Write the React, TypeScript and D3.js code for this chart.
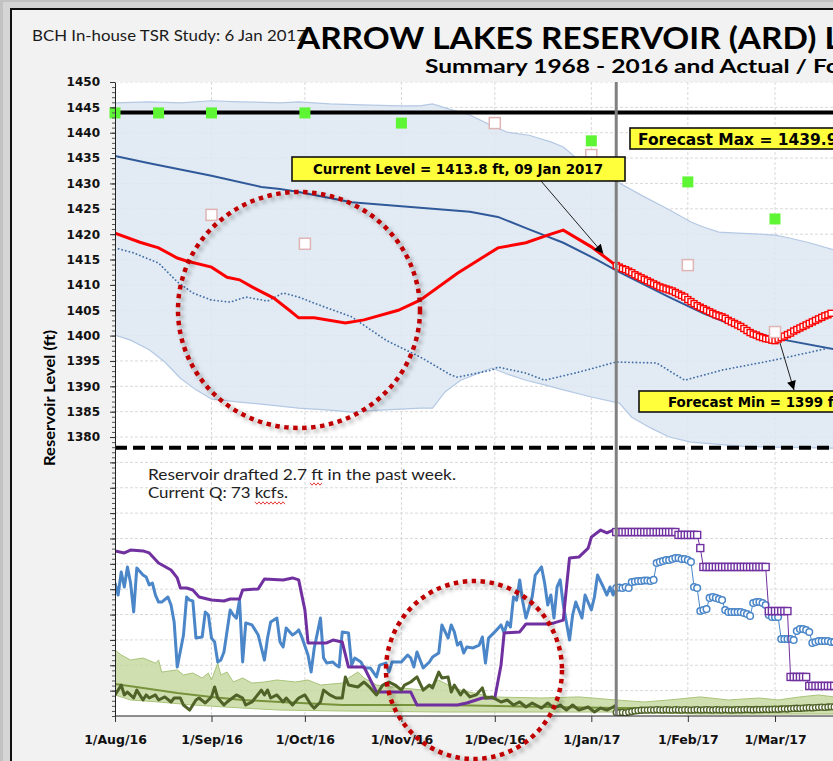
import React, { useEffect, useRef } from 'react';
import * as d3 from 'd3';

type Pt = [number, number];

const W = 833;
const H = 761;
// x values are days since 1 Aug 2016
const START = new Date(2016, 7, 1);
const CURRENT_DAY = 161; // 09 Jan 2017

const FULL_POOL = 1444.0;
const MIN_POOL = 1377.9;
const CURRENT_LEVEL = 1413.8;

const yTickLabels = [1380, 1385, 1390, 1395, 1400, 1405, 1410, 1415, 1420, 1425, 1430, 1435, 1440, 1445, 1450];

// historical range 1968 - 2016 (ft)
const levelBandMax: Pt[] = [[0,1445.9],[11,1446.1],[21,1445.9],[31,1446.3],[40,1446.1],[53,1445.9],[59,1446.1],[69,1445.7],[79,1445.5],[92,1445.3],[98,1445.3],[102,1445.7],[106,1444.9],[114,1443.5],[120,1441.7],[126,1440.1],[133,1439.5],[140,1438.2],[144,1437.2],[149,1434.6],[156,1431.7],[162,1430.1],[169,1427.7],[178,1424.8],[185,1422.4],[189,1421.4],[194,1420.4],[200,1420.2],[207,1420.0],[212,1419.8],[217,1419.2],[223,1418.3],[231,1416.9]];
const levelBandMin: Pt[] = [[0,1400.1],[5,1399.1],[11,1397.2],[16,1394.8],[21,1391.6],[26,1389.3],[31,1387.5],[40,1386.9],[50,1386.3],[59,1385.7],[69,1385.3],[76,1384.9],[85,1385.3],[92,1385.5],[98,1385.7],[102,1385.7],[106,1388.9],[111,1391.2],[116,1392.4],[121,1393.6],[127,1392.2],[132,1391.2],[138,1390.3],[144,1389.3],[153,1387.9],[162,1386.7],[166,1383.9],[172,1381.8],[178,1380.0],[185,1379.0],[189,1378.8],[201,1378.2],[212,1378.0],[231,1377.8]];
const levelMedian: Pt[] = [[0,1435.4],[11,1434.0],[31,1431.5],[47,1429.3],[53,1428.9],[59,1428.3],[76,1426.3],[98,1425.2],[114,1424.4],[123,1423.4],[132,1421.2],[144,1418.3],[155,1414.9],[162,1412.5],[178,1407.6],[189,1404.4],[200,1401.7],[212,1399.5],[231,1397.3]];
const levelPrevYear: Pt[] = [[0,1417.3],[6,1416.3],[14,1414.3],[20,1410.6],[25,1408.4],[31,1407.0],[37,1406.6],[42,1407.6],[49,1406.8],[54,1408.4],[59,1407.6],[64,1406.4],[76,1403.7],[87,1399.1],[98,1395.8],[108,1392.2],[110,1391.8],[121,1393.2],[123,1393.8],[132,1392.6],[138,1391.2],[149,1392.8],[161,1394.8],[174,1394.6],[183,1391.2],[195,1393.2],[212,1395.2],[229,1397.5]];
const levelActual: Pt[] = [[0,1420.2],[8,1418.4],[14,1417.3],[20,1415.3],[23,1414.7],[31,1413.5],[36,1411.5],[40,1411.0],[44,1409.6],[51,1407.4],[56,1405.0],[59,1403.5],[64,1403.5],[74,1402.5],[80,1403.1],[91,1405.0],[98,1407.0],[110,1412.3],[123,1417.3],[132,1418.3],[139,1419.8],[144,1420.8],[153,1417.5],[161,1413.8]];
// daily forecast from 09 Jan 2017
const levelForecast = [1413.8,1413.5,1413.2,1413.0,1412.7,1412.4,1412.0,1411.7,1411.4,1411.1,1410.8,1410.5,1410.2,1409.9,1409.6,1409.4,1409.2,1409.0,1408.8,1408.5,1408.2,1407.9,1407.6,1407.1,1406.7,1406.3,1405.9,1405.6,1405.3,1405.0,1404.7,1404.4,1404.1,1403.9,1403.7,1403.4,1403.0,1402.7,1402.4,1402.1,1401.8,1401.4,1401.0,1400.6,1400.3,1400.1,1399.8,1399.6,1399.4,1399.3,1399.1,1399.0,1399.3,1399.6,1399.9,1400.2,1400.5,1400.9,1401.2,1401.5,1401.8,1402.1,1402.4,1402.7,1403.0,1403.3,1403.6,1403.9,1404.1,1404.4];
const targetHigh: Pt[] = [[0,1443.9],[14,1443.9],[31,1443.9],[61,1443.9],[92,1441.9],[153,1438.4],[184,1430.3],[212,1423.0]];
const targetLow: Pt[] = [[31,1423.8],[61,1418.1],[122,1441.9],[153,1435.6],[184,1413.9],[212,1400.7]];

// flows (kcfs)
const inflowActual: Pt[] = [[0,73.9],[1,67.2],[2,80.0],[3,71.7],[4,82.8],[5,73.9],[6,57.8],[7,82.2],[9,78.3],[10,77.2],[11,72.8],[12,73.9],[13,67.2],[14,63.3],[15,63.3],[17,66.1],[18,61.7],[19,52.2],[20,27.2],[22,45.0],[23,66.1],[24,64.4],[25,63.9],[26,43.3],[28,43.9],[29,57.8],[30,56.1],[31,43.3],[32,41.1],[33,30.0],[34,31.1],[35,35.6],[37,58.9],[38,56.1],[39,54.4],[40,64.4],[41,30.0],[42,51.7],[44,50.6],[46,45.0],[48,31.1],[49,43.3],[50,52.2],[52,54.4],[53,41.1],[54,38.3],[55,48.9],[57,45.0],[58,46.1],[59,47.8],[60,43.9],[62,33.9],[63,24.4],[64,37.8],[66,54.4],[67,32.2],[68,29.4],[70,30.0],[71,28.3],[72,27.2],[73,46.7],[75,46.1],[76,28.3],[77,32.2],[79,30.0],[80,26.7],[82,26.7],[84,21.7],[85,28.3],[87,29.4],[88,24.4],[89,30.0],[91,30.0],[92,30.0],[94,33.9],[95,32.2],[96,27.2],[97,35.6],[99,26.7],[101,30.0],[102,32.8],[104,35.0],[105,50.6],[107,43.3],[108,50.6],[109,46.7],[110,39.4],[111,41.1],[112,35.0],[113,38.3],[115,37.8],[117,39.4],[118,43.9],[119,29.4],[120,43.3],[122,46.7],[124,50.6],[125,46.1],[126,52.2],[127,49.4],[128,66.1],[129,64.4],[130,75.6],[131,63.3],[132,54.4],[134,66.1],[135,78.3],[137,82.8],[138,73.9],[139,61.7],[140,67.2],[141,54.4],[142,71.7],[143,75.6],[144,61.7],[146,42.2],[147,56.1],[148,63.3],[150,54.4],[151,67.2],[153,58.9],[154,66.1],[155,78.3],[157,71.1],[158,67.2],[159,71.7],[160,67.2],[161,71.1]];
const inflowForecast = [71.1,71.4,71.1,71.7,71.1,74.4,74.7,75.0,75.0,75.3,75.3,75.0,75.6,85.0,85.6,86.1,86.7,86.7,87.2,87.8,87.8,87.2,87.2,86.7,85.6,71.7,71.1,58.3,58.9,59.4,65.6,66.1,65.6,65.0,64.4,58.9,57.8,57.8,57.8,57.8,57.8,57.2,56.7,55.6,62.8,63.3,63.3,62.8,61.7,56.1,55.0,55.0,55.0,42.8,42.8,42.8,42.8,42.2,47.2,48.3,48.3,47.8,46.7,40.6,41.1,41.7,41.7,41.7,41.7,41.1,41.1];
const outflowActual: Pt[] = [[0,91.7],[3,90.6],[5,92.2],[9,91.7],[11,90.6],[14,85.0],[18,81.1],[20,76.7],[21,71.1],[23,71.1],[25,70.0],[27,66.1],[31,64.4],[35,63.9],[37,65.0],[40,65.0],[41,70.0],[46,70.6],[48,76.1],[54,75.6],[57,76.7],[59,75.6],[61,58.9],[62,40.6],[68,40.6],[70,42.2],[73,41.1],[75,27.2],[80,27.2],[84,13.3],[95,13.3],[97,6.1],[110,6.1],[113,7.2],[118,10.0],[122,10.0],[124,28.3],[125,46.1],[130,46.7],[132,51.1],[139,51.1],[141,51.7],[144,53.3],[145,71.1],[146,87.8],[149,88.3],[152,93.3],[153,99.4],[156,103.3],[158,101.7],[160,103.3],[161,101.7]];
const outflowForecast = [102.2,102.2,102.2,102.2,102.2,102.2,102.2,102.2,102.2,102.2,102.2,102.2,102.2,102.2,102.2,102.2,102.2,102.2,102.2,102.2,100.6,100.6,100.6,100.6,100.6,100.6,100.6,93.3,82.8,82.8,82.8,82.8,82.8,82.8,82.8,82.8,82.8,82.8,82.8,82.8,82.8,82.8,82.8,82.8,82.8,82.8,82.8,82.8,82.8,58.3,58.3,58.3,58.3,58.3,58.3,58.3,21.7,21.7,21.7,21.7,21.7,21.7,16.7,16.7,16.7,16.7,16.7,16.7,16.7,16.7,16.7];
const localBandMax: Pt[] = [[0,36.7],[2,33.9],[5,31.1],[9,32.2],[13,29.4],[14,31.1],[15,24.4],[20,25.6],[22,22.8],[25,23.9],[28,21.1],[30,23.9],[31,20.0],[33,29.4],[34,22.8],[36,24.4],[38,18.9],[41,21.1],[44,18.3],[48,18.9],[52,20.0],[58,18.9],[62,20.0],[66,17.2],[73,18.3],[75,21.1],[78,24.4],[80,21.1],[84,17.2],[92,15.6],[99,14.4],[104,20.0],[107,17.2],[111,14.4],[121,10.6],[137,10.0],[149,10.6],[161,8.9],[170,7.8],[178,8.9],[188,10.6],[197,8.9],[207,10.0],[213,8.9],[220,10.6],[226,11.7],[231,10.6]];
const localBandMin: Pt[] = [[0,11.7],[5,8.9],[14,7.8],[25,6.1],[41,4.4],[53,3.3],[72,2.8],[106,2.2],[161,2.2],[188,1.1],[231,1.1]];
const localMedian: Pt[] = [[0,17.8],[9,15.6],[20,12.8],[31,10.6],[41,8.9],[53,7.8],[73,6.1],[106,6.1],[161,4.4],[188,4.4],[231,5.6]];
const localActual: Pt[] = [[0,11.7],[1,14.4],[2,17.2],[3,11.7],[4,13.3],[6,10.0],[7,14.4],[9,8.9],[10,11.7],[11,10.0],[13,11.7],[14,8.9],[16,10.6],[18,7.8],[19,10.0],[21,10.0],[22,6.1],[24,3.3],[26,8.9],[27,10.0],[29,7.2],[31,10.6],[32,16.1],[33,10.0],[35,6.1],[36,7.8],[39,11.7],[41,10.0],[42,6.1],[44,7.8],[47,14.4],[48,11.7],[49,14.4],[50,10.0],[52,11.7],[54,7.8],[55,10.0],[57,6.1],[59,10.0],[61,11.7],[63,6.1],[64,4.4],[66,7.8],[67,14.4],[69,11.7],[71,10.0],[73,10.0],[74,21.7],[75,17.2],[78,16.1],[80,18.9],[82,15.6],[84,11.7],[86,17.2],[88,18.9],[90,17.2],[92,14.4],[93,17.2],[95,18.9],[97,21.7],[99,14.4],[101,17.2],[102,15.6],[104,24.4],[105,21.1],[107,21.7],[108,13.3],[109,17.2],[111,11.7],[112,14.4],[114,10.6],[116,11.7],[118,15.6],[119,10.0],[121,10.6],[124,7.8],[126,8.9],[128,6.1],[130,7.8],[132,5.0],[134,7.2],[137,4.4],[139,7.2],[141,4.4],[143,6.1],[145,3.3],[147,6.1],[149,3.3],[152,5.0],[154,2.2],[156,4.4],[158,3.3],[160,5.0],[161,6.1]];
const localForecast = [2.0,1.8,2.0,1.7,2.2,2.5,2.8,3.0,3.2,3.3,3.3,3.4,3.3,3.5,3.4,3.3,3.5,3.4,3.3,3.5,3.4,3.3,3.5,3.4,3.3,3.4,3.5,3.3,3.4,3.5,3.4,3.3,3.5,3.4,3.3,3.5,3.4,3.3,3.4,3.5,3.4,3.5,3.6,3.5,3.4,3.6,3.5,3.6,3.7,3.6,3.7,3.8,3.7,3.9,4.0,3.9,4.1,4.2,4.3,4.2,4.4,4.5,4.6,4.5,4.7,4.8,4.9,4.8,5.0,5.1,5.0];

const fromToday = (vals: number[]): Pt[] => vals.map((v, i) => [CURRENT_DAY + i, v]);

function drawChart(node: SVGSVGElement) {
  const svg = d3.select(node);
  svg.selectAll('*').remove();

  const x = d3.scaleTime().domain([START, new Date(2017, 2, 1)]).range([115, 775]);
  const xd = (d: number) => x(d3.timeDay.offset(START, d));
  const y = d3.scaleLinear().domain([1325, 1450]).range([716, 82]);
  const q = d3.scaleLinear().domain([0, 140]).range([716, 464]);
  const left = 115, top = y(1450), bottom = y(1325);

  const lineL = d3.line<Pt>().x(d => xd(d[0])).y(d => y(d[1]));
  const lineQ = d3.line<Pt>().x(d => xd(d[0])).y(d => q(d[1]));
  const band = (hi: Pt[], lo: Pt[], ln: d3.Line<Pt>) =>
    ln(hi) + (ln([...lo].reverse()) as string).replace('M', 'L') + 'Z';

  const defs = svg.append('defs');
  defs.append('clipPath').attr('id', 'plotclip').append('rect')
    .attr('x', left).attr('y', top).attr('width', W - left).attr('height', bottom - top);
  const sh = defs.append('filter').attr('id', 'shadow')
    .attr('x', '-20%').attr('y', '-20%').attr('width', '140%').attr('height', '140%');
  sh.append('feDropShadow').attr('dx', 3).attr('dy', 3).attr('stdDeviation', 2)
    .attr('flood-color', '#000').attr('flood-opacity', 0.35);
  defs.append('marker').attr('id', 'arrow').attr('viewBox', '0 0 10 10')
    .attr('refX', 10).attr('refY', 5).attr('markerWidth', 12).attr('markerHeight', 9)
    .attr('markerUnits', 'userSpaceOnUse').attr('orient', 'auto')
    .append('path').attr('d', 'M0,0L10,5L0,10Z').attr('fill', '#000');

  // frame
  svg.append('rect').attr('width', W).attr('height', H).attr('fill', '#c2c2c2');
  svg.append('rect').attr('x', 3).attr('y', 2).attr('width', W).attr('height', H).attr('fill', '#d5d5d5');
  svg.append('rect').attr('x', 11).attr('y', 9).attr('width', W).attr('height', H)
    .attr('fill', '#f2f2f2').attr('stroke', '#111').attr('stroke-width', 2);
  svg.append('rect').attr('x', left).attr('y', top).attr('width', W - left).attr('height', bottom - top).attr('fill', '#fff');

  const g = svg.append('g').attr('clip-path', 'url(#plotclip)');
  const months = d3.timeMonth.range(START, new Date(2017, 2, 2));

  // grid
  g.selectAll('.hg').data(d3.range(1330, 1451, 5)).join('line')
    .attr('x1', left).attr('x2', W).attr('y1', d => y(d)).attr('y2', d => y(d))
    .attr('stroke', '#d9d9d9').attr('stroke-dasharray', '3,2');
  g.selectAll('.vg').data(months.slice(1)).join('line')
    .attr('x1', d => x(d)).attr('x2', d => x(d)).attr('y1', top).attr('y2', bottom)
    .attr('stroke', '#d9d9d9').attr('stroke-dasharray', '3,2');

  // historical range bands
  g.append('path').attr('d', band(levelBandMax, levelBandMin, lineL))
    .attr('fill', '#dde7f2').attr('fill-opacity', 0.85);
  [levelBandMax, levelBandMin].forEach(s =>
    g.append('path').attr('d', lineL(s)).attr('fill', 'none').attr('stroke', '#b4c8e4').attr('stroke-width', 1.2));
  g.append('path').attr('d', band(localBandMax, localBandMin, lineQ))
    .attr('fill', '#c4d79b').attr('fill-opacity', 0.8)
    .attr('stroke', '#a9c47a').attr('stroke-width', 1);

  // pool limits
  g.append('line').attr('x1', left).attr('x2', W).attr('y1', y(FULL_POOL)).attr('y2', y(FULL_POOL))
    .attr('stroke', '#000').attr('stroke-width', 4);
  g.append('line').attr('x1', left).attr('x2', W).attr('y1', y(MIN_POOL)).attr('y2', y(MIN_POOL))
    .attr('stroke', '#000').attr('stroke-width', 4).attr('stroke-dasharray', '12,6');

  // reservoir level lines
  g.append('path').attr('d', lineL(levelMedian)).attr('fill', 'none').attr('stroke', '#30599a').attr('stroke-width', 2);
  g.append('path').attr('d', lineL(levelPrevYear)).attr('fill', 'none').attr('stroke', '#4470a8')
    .attr('stroke-width', 1.8).attr('stroke-dasharray', '0.1,3.6').attr('stroke-linecap', 'round');
  g.append('path').attr('d', lineL(levelActual)).attr('fill', 'none').attr('stroke', '#ff0000').attr('stroke-width', 3);

  // flow lines
  g.append('path').attr('d', lineQ(localMedian)).attr('fill', 'none').attr('stroke', '#77933c').attr('stroke-width', 2);
  g.append('path').attr('d', lineQ(inflowActual)).attr('fill', 'none').attr('stroke', '#4a86c8')
    .attr('stroke-width', 3).attr('stroke-linejoin', 'round');
  g.append('path').attr('d', lineQ(outflowActual)).attr('fill', 'none').attr('stroke', '#7030a0')
    .attr('stroke-width', 3).attr('stroke-linejoin', 'round');
  g.append('path').attr('d', lineQ(localActual)).attr('fill', 'none').attr('stroke', '#4f6228')
    .attr('stroke-width', 3).attr('stroke-linejoin', 'round');

  // forecasts (markers)
  const lf = fromToday(levelForecast);
  g.append('path').attr('d', lineL(lf)).attr('fill', 'none').attr('stroke', '#ff0000').attr('stroke-width', 1.5);
  g.selectAll('.lf').data(lf).join('rect')
    .attr('x', d => xd(d[0]) - 3).attr('y', d => y(d[1]) - 3).attr('width', 6).attr('height', 6)
    .attr('fill', '#fff').attr('stroke', '#ff0000').attr('stroke-width', 1.4);

  const inf = fromToday(inflowForecast);
  g.append('path').attr('d', lineQ(inf)).attr('fill', 'none').attr('stroke', '#4a86c8').attr('stroke-width', 1);
  g.selectAll('.if').data(inf).join('circle')
    .attr('cx', d => xd(d[0])).attr('cy', d => q(d[1])).attr('r', 3.3)
    .attr('fill', '#fff').attr('stroke', '#4a86c8').attr('stroke-width', 1.5);

  const of = fromToday(outflowForecast);
  g.append('path').attr('d', lineQ(of)).attr('fill', 'none').attr('stroke', '#7030a0').attr('stroke-width', 1);
  g.selectAll('.of').data(of).join('rect')
    .attr('x', d => xd(d[0]) - 3.5).attr('y', d => q(d[1]) - 3.5).attr('width', 7).attr('height', 7)
    .attr('fill', '#fff').attr('stroke', '#7030a0').attr('stroke-width', 1.4);

  const lcf = fromToday(localForecast);
  g.selectAll('.lc').data(lcf).join('circle')
    .attr('cx', d => xd(d[0])).attr('cy', d => q(d[1])).attr('r', 3)
    .attr('fill', '#fff').attr('stroke', '#4f6228').attr('stroke-width', 1.3);

  // today line
  g.append('line').attr('x1', xd(CURRENT_DAY)).attr('x2', xd(CURRENT_DAY)).attr('y1', top).attr('y2', bottom)
    .attr('stroke', '#808080').attr('stroke-width', 3);

  // monthly target squares
  svg.selectAll('.tl').data(targetLow).join('rect')
    .attr('x', d => xd(d[0]) - 5.5).attr('y', d => y(d[1]) - 5.5).attr('width', 11).attr('height', 11)
    .attr('fill', '#fff').attr('stroke', '#e0b4b4').attr('stroke-width', 1.5);
  svg.selectAll('.th').data(targetHigh).join('rect')
    .attr('x', d => xd(d[0]) - 5.5).attr('y', d => y(d[1]) - 5.5).attr('width', 11).attr('height', 11)
    .attr('fill', '#5ef534');

  // axes
  const yMinor = d3.axisLeft(y).tickValues(d3.range(1325, 1451, 1)).tickSize(3).tickSizeOuter(0).tickFormat(() => '');
  svg.append('g').attr('transform', `translate(${left},0)`).call(yMinor)
    .call(a => a.selectAll('line').attr('stroke', '#555'))
    .call(a => a.select('.domain').attr('stroke', '#222'));
  const yMajor = d3.axisLeft(y).tickValues(d3.range(1330, 1451, 5)).tickSize(5).tickSizeOuter(0).tickPadding(10)
    .tickFormat(v => (yTickLabels.includes(+v) ? String(v) : ''));
  svg.append('g').attr('transform', `translate(${left},0)`).call(yMajor)
    .attr('font-family', 'DejaVu Sans, Verdana, sans-serif').attr('font-weight', 'bold').attr('font-size', 12)
    .call(a => a.select('.domain').remove())
    .call(a => a.selectAll('line').attr('stroke', '#333'))
    .call(a => a.selectAll('text').attr('fill', '#111'));

  const xAxis = d3.axisBottom(x).tickValues(months).tickSize(6).tickSizeOuter(0).tickPadding(13)
    .tickFormat(d => d3.timeFormat('%-d/%b/%y')(d as Date));
  svg.append('g').attr('transform', `translate(0,${bottom})`).call(xAxis)
    .attr('font-family', 'DejaVu Sans, Verdana, sans-serif').attr('font-weight', 'bold').attr('font-size', 12.5)
    .call(a => a.select('.domain').remove())
    .call(a => a.selectAll('line').attr('stroke', '#333'))
    .call(a => a.selectAll('text').attr('fill', '#111'));
  svg.append('line').attr('x1', left).attr('x2', W).attr('y1', bottom).attr('y2', bottom).attr('stroke', '#222');

  svg.append('text').attr('transform', 'translate(55,398) rotate(-90)').attr('text-anchor', 'middle')
    .attr('font-family', 'Lato, sans-serif').attr('font-weight', 'bold').attr('font-size', 15)
    .attr('textLength', 136).attr('lengthAdjust', 'spacingAndGlyphs')
    .text('Reservoir Level (ft)');

  // titles
  svg.append('text').attr('x', 32).attr('y', 41).attr('font-family', 'Lato, sans-serif').attr('font-size', 14.5)
    .attr('fill', '#1a1a1a').attr('textLength', 274).attr('lengthAdjust', 'spacingAndGlyphs')
    .text('BCH In-house TSR Study: 6 Jan 2017');
  svg.append('text').attr('x', 297).attr('y', 49).attr('font-family', 'Lato, sans-serif').attr('font-weight', 'bold')
    .attr('font-size', 29.5).attr('fill', '#000').attr('textLength', 642).attr('lengthAdjust', 'spacingAndGlyphs')
    .text('ARROW LAKES RESERVOIR (ARD) LEVELS');
  svg.append('text').attr('x', 425).attr('y', 73).attr('font-family', 'Lato, sans-serif').attr('font-weight', 'bold')
    .attr('font-size', 19.5).attr('fill', '#000').attr('textLength', 622).attr('lengthAdjust', 'spacingAndGlyphs')
    .text('Summary 1968 - 2016 and Actual / Forecast 2016 - 2017');

  // notes
  const note = svg.append('g').attr('font-family', 'Lato, sans-serif').attr('font-size', 14.5).attr('fill', '#222');
  note.append('text').attr('x', 148).attr('y', 480).attr('textLength', 308).attr('lengthAdjust', 'spacingAndGlyphs')
    .text('Reservoir drafted 2.7 ft in the past week.');
  note.append('text').attr('x', 148).attr('y', 498).attr('textLength', 140).attr('lengthAdjust', 'spacingAndGlyphs')
    .text('Current Q: 73 kcfs.');
  const squiggle = (x0: number, x1: number, yy: number) => {
    const pts: Pt[] = [];
    for (let xx = x0, k = 0; xx <= x1; xx += 2, k++) pts.push([xx, yy + (k % 2 ? 1.2 : -1.2)]);
    svg.append('path').attr('d', d3.line()(pts)).attr('fill', 'none').attr('stroke', '#e02020').attr('stroke-width', 0.9);
  };
  squiggle(310, 323, 484);
  squiggle(255, 285, 503);

  // dotted highlight circles
  const rings = [
    { cx: 299, cy: 310, rx: 121, ry: 118 },
    { cx: 474, cy: 670, rx: 88, ry: 89 },
  ];
  svg.selectAll('.ring').data(rings).join('ellipse')
    .attr('cx', d => d.cx).attr('cy', d => d.cy).attr('rx', d => d.rx).attr('ry', d => d.ry)
    .attr('fill', 'none').attr('stroke', '#c00000').attr('stroke-width', 4.5).attr('stroke-dasharray', '4.5,4.5')
    .attr('filter', 'url(#shadow)');

  // callouts
  const callout = (bx: number, by: number, bw: number, bh: number, tx: number, ty: number, fs: number, len: number, label: string) => {
    svg.append('rect').attr('x', bx).attr('y', by).attr('width', bw).attr('height', bh)
      .attr('fill', '#ffff3c').attr('stroke', '#111').attr('stroke-width', 1.6);
    svg.append('text').attr('x', tx).attr('y', ty).attr('font-family', 'DejaVu Sans, Verdana, sans-serif')
      .attr('font-weight', 'bold').attr('font-size', fs).attr('fill', '#000')
      .attr('textLength', len).attr('lengthAdjust', 'spacingAndGlyphs').text(label);
  };
  svg.append('line').attr('x1', 541).attr('y1', 181).attr('x2', xd(CURRENT_DAY) - 13).attr('y2', y(CURRENT_LEVEL) - 12)
    .attr('stroke', '#222').attr('stroke-width', 1).attr('marker-end', 'url(#arrow)');
  svg.append('line').attr('x1', 780).attr('y1', 343).attr('x2', 794).attr('y2', 390)
    .attr('stroke', '#222').attr('stroke-width', 1).attr('marker-end', 'url(#arrow)');
  callout(292, 157, 333, 24, 313, 174, 14, 290, 'Current Level = 1413.8 ft, 09 Jan 2017');
  callout(630, 128, 260, 21, 638, 145, 16, 219, 'Forecast Max = 1439.9 ft');
  callout(639, 391, 250, 21, 668, 407, 14, 172, 'Forecast Min = 1399 ft');
}

export default function App() {
  const ref = useRef<SVGSVGElement>(null);
  useEffect(() => {
    if (ref.current) drawChart(ref.current);
  }, []);
  return (
    <svg ref={ref} width={W} height={H} style={{ position: 'absolute', left: 0, top: 0, display: 'block' }} />
  );
}
